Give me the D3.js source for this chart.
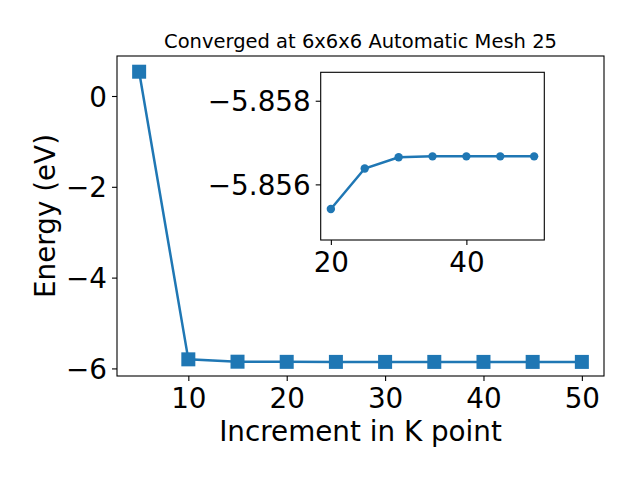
<!DOCTYPE html>
<html>
<head>
<meta charset="utf-8">
<script src="https://cdn.jsdelivr.net/npm/d3@7/dist/d3.min.js"></script>
<style>
  html, body { margin: 0; padding: 0; background: #fff; }
  svg { display: block; font-family: "DejaVu Sans", sans-serif; }
</style>
</head>
<body>
<svg id="chart" width="640" height="480"></svg>
<script>
// ── Data ──────────────────────────────────────────────────────────────────
const kPoints = [5, 10, 15, 20, 25, 30, 35, 40, 45, 50];
const energies = [0.535, -5.80, -5.852, -5.8554, -5.8564, -5.85665, -5.85667, -5.85667, -5.85667, -5.85667];
const insetK = [20, 25, 30, 35, 40, 45, 50];
const insetE = [-5.85541, -5.85638, -5.85665, -5.85667, -5.85667, -5.85667, -5.85667];
const mainXTicks = [10, 20, 30, 40, 50];
const mainYTicks = [0, -2, -4, -6];
const insetXTicks = [20, 40];
const insetYTicks = [-5.858, -5.856];

const blue = '#1f77b4';
const svg = d3.select('#chart');
const fmtMinus = s => s.replace('-', '\u2212');

// ── Main axes ─────────────────────────────────────────────────────────────
const M = { left: 117, right: 604, top: 56, bottom: 376 };
const x = d3.scaleLinear().domain([2.75, 52.25]).range([M.left, M.right]);
const y = d3.scaleLinear().domain([-6.167, 0.881]).range([M.bottom, M.top]);

svg.append('text')
  .attr('x', (M.left + M.right) / 2).attr('y', 48)
  .attr('text-anchor', 'middle').attr('font-size', 19.5)
  .text('Converged at 6x6x6 Automatic Mesh 25');

const xAxis = svg.append('g').attr('transform', `translate(0,${M.bottom})`)
  .call(d3.axisBottom(x).tickValues(mainXTicks).tickSize(5).tickPadding(5).tickFormat(d3.format('d')));
const yAxis = svg.append('g').attr('transform', `translate(${M.left},0)`)
  .call(d3.axisLeft(y).tickValues(mainYTicks).tickSize(5).tickPadding(5).tickFormat(d => fmtMinus(String(d))));
[xAxis, yAxis].forEach(g => {
  g.select('.domain').remove();
  g.selectAll('line').attr('stroke', '#000').attr('stroke-width', 1.1);
  g.selectAll('text').attr('font-size', 27.8).attr('fill', '#000')
    .attr('font-family', '"DejaVu Sans", sans-serif');
});
xAxis.selectAll('text').attr('dy', '0.78em');
yAxis.selectAll('text').attr('dy', '0.36em');

svg.append('rect')
  .attr('x', M.left).attr('y', M.top)
  .attr('width', M.right - M.left).attr('height', M.bottom - M.top)
  .attr('fill', 'none').attr('stroke', '#000').attr('stroke-width', 1.1);

const mainLine = d3.line().x((d, i) => x(kPoints[i])).y(d => y(d));
svg.append('path').datum(energies)
  .attr('d', mainLine).attr('fill', 'none')
  .attr('stroke', blue).attr('stroke-width', 2.5);

const sq = 14;
svg.append('g').selectAll('rect').data(energies).join('rect')
  .attr('x', (d, i) => x(kPoints[i]) - sq / 2)
  .attr('y', d => y(d) - sq / 2)
  .attr('width', sq).attr('height', sq)
  .attr('fill', blue);

svg.append('text')
  .attr('x', (M.left + M.right) / 2).attr('y', 441)
  .attr('text-anchor', 'middle').attr('font-size', 27.8)
  .text('Increment in K point');

svg.append('text')
  .attr('transform', `translate(55,${(M.top + M.bottom) / 2}) rotate(-90)`)
  .attr('text-anchor', 'middle').attr('font-size', 27.8)
  .text('Energy (eV)');

// ── Inset ─────────────────────────────────────────────────────────────────
const I = { left: 320.7, right: 544.3, top: 72.3, bottom: 240 };
const ix = d3.scaleLinear().domain([18.5, 51.5]).range([I.left, I.right]);
// inverted y: smaller energy at top
const iy = d3.scaleLinear().domain([-5.85868, -5.85467]).range([I.top, I.bottom]);

svg.append('rect')
  .attr('x', I.left).attr('y', I.top)
  .attr('width', I.right - I.left).attr('height', I.bottom - I.top)
  .attr('fill', '#fff').attr('stroke', '#000').attr('stroke-width', 1.1);

const ixAxis = svg.append('g').attr('transform', `translate(0,${I.bottom})`)
  .call(d3.axisBottom(ix).tickValues(insetXTicks).tickSize(5).tickPadding(5).tickFormat(d3.format('d')));
const iyAxis = svg.append('g').attr('transform', `translate(${I.left},0)`)
  .call(d3.axisLeft(iy).tickValues(insetYTicks).tickSize(5).tickPadding(5).tickFormat(d => fmtMinus(d3.format('.3f')(d))));
[ixAxis, iyAxis].forEach(g => {
  g.select('.domain').remove();
  g.selectAll('line').attr('stroke', '#000').attr('stroke-width', 1.1);
  g.selectAll('text').attr('font-size', 27.8).attr('fill', '#000')
    .attr('font-family', '"DejaVu Sans", sans-serif');
});
ixAxis.selectAll('text').attr('dy', '0.78em');
iyAxis.selectAll('text').attr('dy', '0.36em');

const insetLine = d3.line().x((d, i) => ix(insetK[i])).y(d => iy(d));
svg.append('path').datum(insetE)
  .attr('d', insetLine).attr('fill', 'none')
  .attr('stroke', blue).attr('stroke-width', 2.5);

svg.append('g').selectAll('circle').data(insetE).join('circle')
  .attr('cx', (d, i) => ix(insetK[i]))
  .attr('cy', d => iy(d))
  .attr('r', 4.2)
  .attr('fill', blue);
</script>
</body>
</html>
